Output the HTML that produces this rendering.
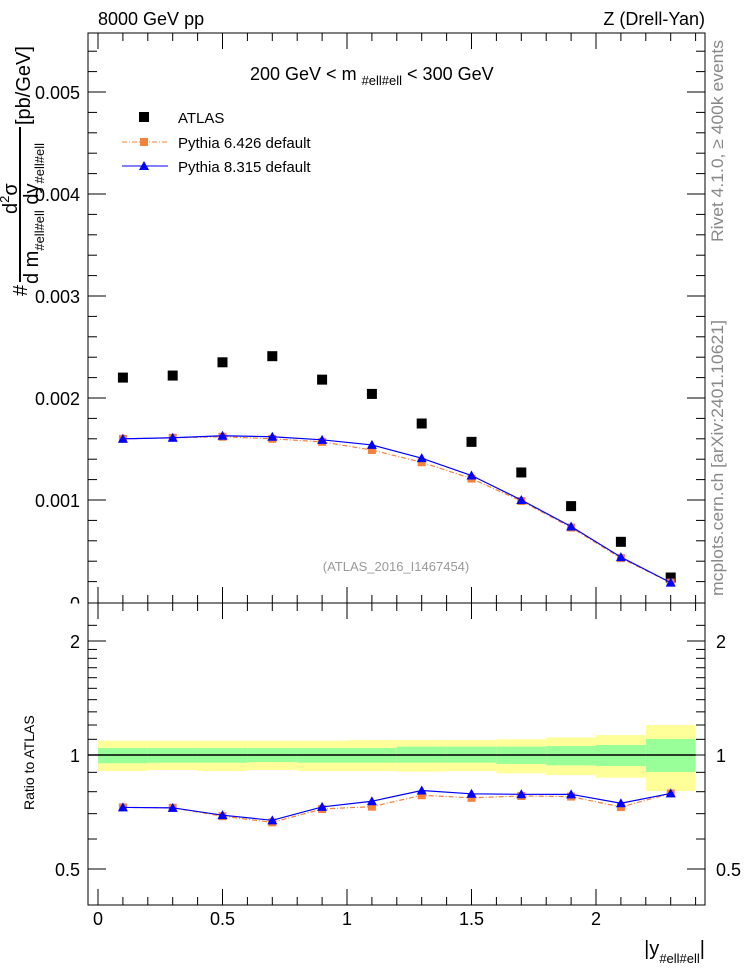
<!DOCTYPE html>
<html><head><meta charset="utf-8"><style>
body{margin:0;background:#fff}
svg{display:block;font-family:"Liberation Sans",sans-serif}
</style></head><body>
<svg id="c" width="746" height="972" xmlns="http://www.w3.org/2000/svg">
<rect width="746" height="972" fill="#fff"/>
<text x="98" y="25" font-size="18">8000 GeV pp</text>
<text x="705" y="25" font-size="18" text-anchor="end">Z (Drell-Yan)</text>
<text x="250" y="80" font-size="18">200 GeV &lt; m <tspan font-size="13" dy="5">#ell#ell</tspan><tspan dy="-5"> &lt; 300 GeV</tspan></text>
<text x="396" y="571" font-size="13" fill="#999" text-anchor="middle">(ATLAS_2016_I1467454)</text>
<text transform="translate(723,242) rotate(-90)" font-size="17" fill="#888" textLength="202" lengthAdjust="spacingAndGlyphs">Rivet 4.1.0, ≥ 400k events</text>
<text transform="translate(723,596) rotate(-90)" font-size="17" fill="#888" textLength="276" lengthAdjust="spacingAndGlyphs">mcplots.cern.ch [arXiv:2401.10621]</text>
<g font-size="20">
<text transform="translate(27,296) rotate(-90)">#</text>
<text transform="translate(17,214) rotate(-90)">d<tspan font-size="13" dy="-8">2</tspan><tspan dy="8">σ</tspan></text>
<rect x="19" y="127" width="2" height="155" fill="#000"/>
<text transform="translate(38,284) rotate(-90)">d m<tspan font-size="13" dy="6">#ell#ell</tspan><tspan dy="-6"> dy</tspan><tspan font-size="13" dy="6">#ell#ell</tspan></text>
<text transform="translate(30,125) rotate(-90)">[pb/GeV]</text>
</g>
<text transform="translate(34,810) rotate(-90)" font-size="14">Ratio to ATLAS</text>
<text x="705" y="955" font-size="20" text-anchor="end">|y<tspan font-size="13" dy="8">#ell#ell</tspan><tspan dy="-8">|</tspan></text>
<g id="legend" font-size="15">
<rect x="139" y="112" width="10" height="10" fill="#000"/>
<text x="178" y="123">ATLAS</text>
<line x1="122" y1="142" x2="168" y2="142" stroke="#f5823c" stroke-dasharray="5,2,1,2"/>
<rect x="140" y="138" width="8" height="8" fill="#f5823c"/>
<text x="178" y="148">Pythia 6.426 default</text>
<line x1="122" y1="166" x2="168" y2="166" stroke="#00f"/>
<polygon points="144,161 149,170 139,170" fill="#00f"/>
<text x="178" y="172">Pythia 8.315 default</text>
</g>
<g id="plot"></g>
</svg>
<script>
const xCenters=[0.1,0.3,0.5,0.7,0.9,1.1,1.3,1.5,1.7,1.9,2.1,2.3];
const atlas=[0.00220,0.00222,0.00235,0.00241,0.00218,0.00204,0.00175,0.00157,0.00127,0.00094,0.00059,0.00024];
const py6=[0.00160,0.00161,0.00162,0.00160,0.00157,0.00149,0.00137,0.00121,0.00099,0.00073,0.00043,0.00019];
const py8=[0.00160,0.00161,0.00163,0.00162,0.00159,0.00154,0.00141,0.00124,0.00100,0.00074,0.00044,0.00019];
const yellowHi=[1.091,1.091,1.091,1.091,1.091,1.095,1.095,1.095,1.100,1.113,1.129,1.200];
const yellowLo=[0.907,0.913,0.907,0.913,0.907,0.907,0.904,0.907,0.895,0.885,0.871,0.803];
const greenHi=[1.043,1.043,1.043,1.043,1.043,1.043,1.052,1.052,1.052,1.056,1.063,1.102];
const greenLo=[0.951,0.954,0.954,0.958,0.954,0.954,0.954,0.954,0.947,0.939,0.935,0.902];
const xTicks=[0,0.5,1,1.5,2];
const xTickLabels=["0","0.5","1","1.5","2"];
const yTicks=[0.001,0.002,0.003,0.004,0.005];
const yTickLabels=["0.001","0.002","0.003","0.004","0.005"];
const rTicks=[0.5,1,2];
const rTickLabels=["0.5","1","2"];

const NS="http://www.w3.org/2000/svg";
const g=document.getElementById('plot');
const L=88,R=705,T=33,M=603,B=905;
const X=v=>98+v*249;
const Y=v=>602-v*102000;
const RY=v=>755-114*Math.log2(v);
function mk(t,a,p){const e=document.createElementNS(NS,t);for(const k in a)e.setAttribute(k,a[k]);(p||g).appendChild(e);return e;}

for(let i=0;i<xCenters.length;i++){
  const x0=X(xCenters[i]-0.1),x1=X(xCenters[i]+0.1);
  const y=mk('rect',{x:x0,y:RY(yellowHi[i]),width:x1-x0,height:RY(yellowLo[i])-RY(yellowHi[i]),fill:'#ffff99'});
  
  
  const gr=mk('rect',{x:x0,y:RY(greenHi[i]),width:x1-x0,height:RY(greenLo[i])-RY(greenHi[i]),fill:'#99ff99'});
  
  
}
const one=mk('line',{x1:X(-0.04),x2:X(2.4),y1:RY(1),y2:RY(1),stroke:'#000','stroke-width':1.5});



mk('rect',{x:L,y:T,width:R-L,height:M-T,fill:'none',stroke:'#000'});
mk('rect',{x:L,y:M,width:R-L,height:B-M,fill:'none',stroke:'#000'});

for(let v=0;v<=2.41;v+=0.1){
  const major=Math.abs(v*2-Math.round(v*2))<1e-6;
  const len=major?16:8;
  [T,M].forEach(y0=>mk('line',{x1:X(v),x2:X(v),y1:y0,y2:y0+len,stroke:'#000'}));
  [M,B].forEach(y0=>mk('line',{x1:X(v),x2:X(v),y1:y0,y2:y0-len,stroke:'#000'}));
}
xTicks.forEach((v,i)=>{const t=mk('text',{x:X(v),y:925,'font-size':18,'text-anchor':'middle'});t.textContent=xTickLabels[i];

});
for(let k=1;k<=27;k++){const v=k*0.0002;const y=Y(v);if(y<T)break;const major=k%5==0;const len=major?18:9;
  mk('line',{x1:L,x2:L+len,y1:y,y2:y,stroke:'#000'});mk('line',{x1:R,x2:R-len,y1:y,y2:y,stroke:'#000'});}
yTicks.forEach((v,i)=>{const t=mk('text',{x:80,y:Y(v)+7,'font-size':18,'text-anchor':'end'});t.textContent=yTickLabels[i];

});
{const t=mk('text',{x:80,y:610,'font-size':18,'text-anchor':'end'});t.textContent='0';
mk('rect',{x:60,y:603.5,width:27,height:10,fill:'#fff'});}
[0.4,0.5,0.6,0.7,0.8,0.9,1,1.1,1.2,1.3,1.4,1.5,1.6,1.7,1.8,1.9,2,2.2].forEach(v=>{const y=RY(v);if(y<M||y>B)return;
  const major=rTicks.includes(v);const len=major?18:9;
  mk('line',{x1:L,x2:L+len,y1:y,y2:y,stroke:'#000'});mk('line',{x1:R,x2:R-len,y1:y,y2:y,stroke:'#000'});});
rTicks.forEach((v,i)=>{[[80,'end'],[716,'start']].forEach(([x,a])=>{const t=mk('text',{x:x,y:RY(v)+7,'font-size':18,'text-anchor':a});t.textContent=rTickLabels[i];

});});

function series(vals,yf,color,dash,marker,name){
  const pts=xCenters.map((x,i)=>X(x)+','+yf(vals[i],i)).join(' ');
  const pl=mk('polyline',{points:pts,fill:'none',stroke:color,'stroke-width':1.2,'stroke-dasharray':dash||'none'});
  
  
  xCenters.forEach((x,i)=>{const cx=X(x),cy=yf(vals[i],i);let m;
    if(marker=='sq')m=mk('rect',{x:cx-4,y:cy-4,width:8,height:8,fill:color});
    else m=mk('polygon',{points:`${cx},${cy-5} ${cx+5},${cy+4} ${cx-5},${cy+4}`,fill:color});
    
    });
}
xCenters.forEach((x,i)=>{const m=mk('rect',{x:X(x)-5,y:Y(atlas[i])-5,width:10,height:10,fill:'#000'});

});
series(py6,v=>Y(v),'#f5823c','5,2,1,2','sq','pythia6');
series(py8,v=>Y(v),'#00f',null,'tri','pythia8');
series(py6,(v,i)=>RY(v/atlas[i]),'#f5823c','5,2,1,2','sq','pythia6-ratio');
series(py8,(v,i)=>RY(v/atlas[i]),'#00f',null,'tri','pythia8-ratio');
</script>
</body></html>
